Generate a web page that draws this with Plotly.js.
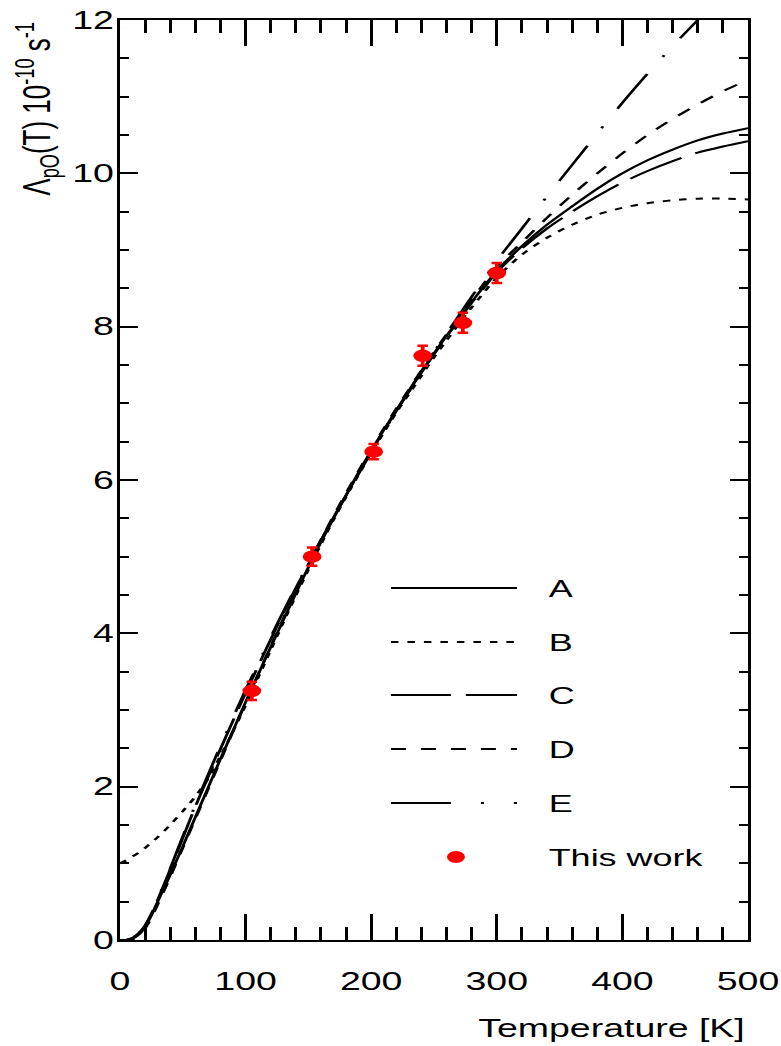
<!DOCTYPE html>
<html>
<head>
<meta charset="utf-8">
<script src="https://cdn.plot.ly/plotly-3.0.1.min.js"></script>
<style>
  html, body { margin: 0; padding: 0; background: #fff; overflow: hidden; }
  /* the figure is laid out narrow and widened horizontally */
  #plot { width: 521px; height: 1046px; transform: scaleX(1.49904); transform-origin: 0 0; }
</style>
</head>
<body>
<div id="plot"></div>
<script>
// Temperature grid (K) shared by the model curves
const temps = [0,5,10,15,20,25,30,40,50,60,70,80,90,100,110,120,130,140,150,160,170,180,190,200,210,220,230,240,250,260,270,280,290,300,320,340,360,380,400,420,440,460,480,500];

// Transfer rate Λ_pO(T) in units of 10^10 s^-1 for each model
const curveA = [0,0,0.02,0.07,0.17,0.32,0.5,0.85,1.22,1.6,1.98,2.36,2.73,3.1,3.46,3.82,4.17,4.52,4.86,5.19,5.5,5.8,6.1,6.38,6.65,6.91,7.16,7.41,7.65,7.88,8.1,8.32,8.53,8.73,9.05,9.33,9.57,9.8,10.0,10.17,10.31,10.43,10.52,10.59];
const curveB = [1.0,1.04,1.09,1.14,1.2,1.27,1.34,1.5,1.68,1.87,2.1,2.4,2.72,3.06,3.42,3.78,4.14,4.49,4.83,5.16,5.48,5.78,6.07,6.35,6.62,6.88,7.12,7.36,7.6,7.82,8.04,8.25,8.45,8.64,8.94,9.16,9.33,9.46,9.55,9.61,9.65,9.67,9.67,9.66];
const curveC = [0,0,0.02,0.08,0.18,0.33,0.52,0.92,1.33,1.74,2.12,2.49,2.86,3.22,3.57,3.92,4.26,4.59,4.9,5.21,5.51,5.8,6.09,6.37,6.64,6.9,7.15,7.4,7.64,7.87,8.09,8.31,8.51,8.71,9.02,9.28,9.5,9.7,9.88,10.03,10.16,10.27,10.35,10.42];
const curveD = [0,0,0.01,0.06,0.15,0.29,0.46,0.82,1.2,1.58,1.96,2.34,2.72,3.09,3.46,3.83,4.19,4.55,4.89,5.22,5.53,5.83,6.12,6.4,6.67,6.93,7.18,7.43,7.67,7.9,8.13,8.35,8.57,8.78,9.1,9.42,9.72,10.0,10.26,10.5,10.71,10.9,11.07,11.22];
const curveE = [0,0,0.03,0.09,0.19,0.34,0.53,0.93,1.35,1.76,2.15,2.53,2.9,3.26,3.6,3.95,4.28,4.6,4.91,5.21,5.51,5.8,6.08,6.36,6.63,6.9,7.16,7.42,7.67,7.91,8.15,8.39,8.62,8.86,9.28,9.7,10.11,10.52,10.92,11.3,11.66,12.0,12.35,12.68];

// Measured points with uncertainties
const measT = [105,153,202,241,273,300];
const measRate = [3.25,5.0,6.37,7.62,8.05,8.7];
const measErr = [0.12,0.12,0.1,0.13,0.13,0.13];

// Legend entries and axis ticks
const seriesNames = ['A','B','C','D','E','This work'];
const xTickVals = [0,100,200,300,400,500];
const yTickVals = [0,2,4,6,8,10,12];
const xRange = [0, 500];
const yRange = [0, 12];

const dashes = ['solid','5px,6px','40px,10px','10px,10px','40px,20px,2px,20px'];
const curves = [curveA, curveB, curveC, curveD, curveE];
const fontFam = 'Liberation Sans, Arial, sans-serif';

const traces = curves.map((ys, i) => ({
  x: temps, y: ys, type: 'scatter', mode: 'lines', name: seriesNames[i],
  line: {color: '#000', width: 2, dash: dashes[i], shape: 'spline', smoothing: 0.8},
  showlegend: false, hoverinfo: 'skip'
}));
traces.push({
  x: measT, y: measRate, type: 'scatter', mode: 'markers', name: seriesNames[5],
  marker: {color: '#ff0000', size: 12.5, line: {width: 0}},
  error_y: {type: 'data', array: measErr, visible: true, color: '#ff0000', thickness: 2.5, width: 3.5},
  showlegend: false, cliponaxis: false
});
// empty trace that brings up the tick-only top/right axes
traces.push({x: [], y: [], type: 'scatter', mode: 'lines', xaxis: 'x2', yaxis: 'y2', showlegend: false, hoverinfo: 'skip'});

// Hand-built legend (long line samples), in paper coordinates
const legX0 = 0.4315, legX1 = 0.6322, legLabelX = 0.6783, legMarkX = 0.535;
const legRows = [0.3826, 0.3239, 0.2663, 0.2076, 0.1489, 0.0902];
const shapes = [];
const annotations = [];
for (let i = 0; i < 5; i++) {
  shapes.push({type: 'line', xref: 'paper', yref: 'paper', x0: legX0, x1: legX1, y0: legRows[i], y1: legRows[i],
    line: {color: '#000', width: 1.8, dash: dashes[i]}});
}
shapes.push({type: 'circle', xref: 'paper', yref: 'paper', xsizemode: 'pixel', ysizemode: 'pixel',
  xanchor: legMarkX, yanchor: legRows[5], x0: -6, x1: 6, y0: -6, y1: 6,
  fillcolor: '#ff0000', line: {width: 0}});
seriesNames.forEach((name, i) => {
  annotations.push({xref: 'paper', yref: 'paper', x: legLabelX, y: legRows[i], text: name,
    showarrow: false, xanchor: 'left', yanchor: 'middle',
    font: {family: fontFam, size: 24, color: '#000'}});
});
// Axis titles in the corner positions
annotations.push({xref: 'paper', yref: 'paper', x: -0.132, y: 1.0, textangle: -90,
  text: 'Λ<sub>pO</sub>(T) 10<sup>-10</sup> s<sup>-1</sup>', showarrow: false,
  xanchor: 'center', yanchor: 'top',
  font: {family: fontFam, size: 26, color: '#000'}});
annotations.push({xref: 'paper', yref: 'paper', x: 1.0, y: -0.0957, text: 'Temperature [K]',
  showarrow: false, xanchor: 'right', yanchor: 'middle',
  font: {family: fontFam, size: 25, color: '#000'}});

const tickFont = {family: fontFam, size: 25, color: '#000'};
// Tick-only axes on the top and right edges
const edgeX = {
  overlaying: 'x', side: 'top', anchor: 'y2', range: xRange, tickvals: xTickVals, showticklabels: false,
  ticks: 'inside', ticklen: 26, tickwidth: 2, tickcolor: '#000',
  minor: {dtick: 20, tick0: 0, ticks: 'inside', ticklen: 13, tickwidth: 2, tickcolor: '#000', showgrid: false},
  showline: false, showgrid: false, zeroline: false
};
const edgeY = {
  overlaying: 'y', side: 'right', anchor: 'x2', range: yRange, tickvals: yTickVals, showticklabels: false,
  ticks: 'inside', ticklen: 12, tickwidth: 2, tickcolor: '#000',
  minor: {dtick: 0.5, tick0: 0, ticks: 'inside', ticklen: 6, tickwidth: 2, tickcolor: '#000', showgrid: false},
  showline: false, showgrid: false, zeroline: false
};

const layout = {
  width: 521, height: 1046,
  margin: {l: 80, r: 22.33, t: 20, b: 106},
  paper_bgcolor: '#fff', plot_bgcolor: '#fff',
  showlegend: false,
  xaxis: {
    range: xRange, tickvals: xTickVals, ticks: 'inside', ticklen: 26, tickwidth: 2, tickcolor: '#000',
    minor: {dtick: 20, tick0: 0, ticks: 'inside', ticklen: 13, tickwidth: 2, tickcolor: '#000', showgrid: false},
    showline: true, linewidth: 2, linecolor: '#000', mirror: true,
    showgrid: false, zeroline: false, tickfont: tickFont, ticklabelstandoff: 18
  },
  yaxis: {
    range: yRange, tickvals: yTickVals, ticks: 'inside', ticklen: 12, tickwidth: 2, tickcolor: '#000',
    minor: {dtick: 0.5, tick0: 0, ticks: 'inside', ticklen: 6, tickwidth: 2, tickcolor: '#000', showgrid: false},
    showline: true, linewidth: 2, linecolor: '#000', mirror: true,
    showgrid: false, zeroline: false, tickfont: tickFont, ticklabelstandoff: -3
  },
  xaxis2: edgeX,
  yaxis2: edgeY,
  shapes: shapes,
  annotations: annotations
};

Plotly.newPlot('plot', traces, layout, {staticPlot: true, displayModeBar: false});
</script>
</body>
</html>
